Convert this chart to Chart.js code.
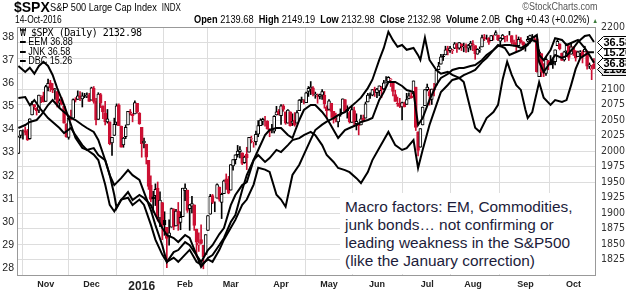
<!DOCTYPE html>
<html>
<head>
<meta charset="utf-8">
<script src="https://cdn.jsdelivr.net/npm/chart.js@4.4.0/dist/chart.umd.min.js"></script>
<style>
  body { margin: 0; background: #fff; }
  #wrap { position: relative; width: 626px; height: 291px; overflow: hidden; font-family: "Liberation Sans", Arial, sans-serif; }
  #chart { position: absolute; left: 0; top: 0; }
  .t { position: absolute; white-space: nowrap; color: #000; line-height: 1; }
  .narrow { transform: scaleX(0.8); transform-origin: left top; }
  #sym { left: 14px; top: 0px; font-size: 14px; font-weight: bold; }
  #name { left: 50px; top: 2px; font-size: 11.5px; }
  #name small { font-size: 10px; margin-left: 3px; }
  #date { left: 15px; top: 14px; font-size: 10.5px; }
  #ohlc { right: 28px; top: 14px; font-size: 11px; transform: scaleX(0.84); transform-origin: right top; }
  #ohlc b { margin-left: 3px; }
  #ohlc .up { font-size: 7px; color: #3a7a3a; }
  #copy { right: 28px; top: 2px; font-size: 10px; color: #555; transform: scaleX(0.9); transform-origin: right top; }
  .leg { left: 20px; font-size: 11px; }
  .leg.narrow { transform: scaleX(0.82); }
  .leg i { display: inline-block; width: 7px; height: 2px; background: #000; vertical-align: middle; margin-right: 3px; }
  #leg0 { top: 28px; font-family: "DejaVu Sans Mono", monospace; font-size: 10px; letter-spacing: -0.5px; }
  #note-bg { position: absolute; left: 340px; top: 193px; width: 255px; height: 81px; background: #fff; }
  #note { left: 345px; top: 198px; font-size: 15.4px; line-height: 18px; color: #1c1c3a; }
</style>
</head>
<body>
<div id="wrap">
  <canvas id="chart" width="626" height="291"></canvas>
  <div class="t" id="sym">$SPX</div>
  <div class="t narrow" id="name">S&amp;P 500 Large Cap Index <small>INDX</small></div>
  <div class="t narrow" id="date">14-Oct-2016</div>
  <div class="t" id="ohlc"><b>Open</b> 2139.68 <b>High</b> 2149.19 <b>Low</b> 2132.98 <b>Close</b> 2132.98 <b>Volume</b> 2.0B <b>Chg</b> +0.43 (+0.02%) <span class="up">&#9650;</span></div>
  <div class="t" id="copy">&copy;StockCharts.com</div>
  <div class="t leg" id="leg0">&#x20A9; $SPX (Daily) 2132.98</div>
  <div class="t leg narrow" style="top:36px"><i></i>EEM 36.88</div>
  <div class="t leg narrow" style="top:46px"><i></i>JNK 36.58</div>
  <div class="t leg narrow" style="top:55px"><i></i>DBC 15.26</div>
  <div id="note-bg"></div>
  <div class="t" id="note">Macro factors: EM, Commodities,<br>junk bonds… not confirming or<br>leading weakness in the S&amp;P500<br>(like the January correction)</div>
</div>
<script>
// trading day index 0 = 15-Oct-2015 ... 252 = 14-Oct-2016
const monthDays = [12, 32, 54, 73, 93, 115, 136, 157, 179, 199, 222, 243];
const monthNames = ['Nov', 'Dec', '2016', 'Feb', 'Mar', 'Apr', 'May', 'Jun', 'Jul', 'Aug', 'Sep', 'Oct'];
const spxTicks = [1825, 1850, 1875, 1900, 1925, 1950, 1975, 2000, 2025, 2050, 2075, 2100, 2125, 2150, 2175, 2200];
const eemTicks = [28, 29, 30, 31, 32, 33, 34, 35, 36, 37, 38];

// $SPX daily candles, one row per month
const spxOpen = [
  1996, 2025, 2033, 2033, 2031, 2020, 2058, 2075, 2069, 2066, 2088, 2089,
  2080, 2103, 2110, 2101, 2098, 2096, 2077, 2083, 2072, 2044, 2022, 2053, 2053, 2083, 2083, 2089, 2084, 2089, 2088, 2090,
  2082, 2101, 2080, 2051, 2091, 2073, 2061, 2047, 2047, 2013, 2025, 2046, 2074, 2040, 2010, 2023, 2042, 2063, 2060, 2060, 2077, 2061,
  2038, 2013, 2011, 1985, 1945, 1926, 1928, 1940, 1892, 1917, 1888, 1877, 1861, 1877, 1906, 1879, 1903, 1885, 1894,
  1936, 1937, 1907, 1911, 1913, 1874, 1848, 1857, 1848, 1833, 1872, 1898, 1928, 1918, 1924, 1942, 1917, 1931, 1955, 1949,
  1937, 1976, 1986, 1994, 1999, 1997, 1981, 1995, 1998, 2019, 2015, 2015, 2027, 2041, 2048, 2049, 2048, 2032, 2037, 2032, 2058, 2064,
  2057, 2073, 2063, 2045, 2063, 2045, 2050, 2045, 2065, 2083, 2081, 2078, 2096, 2100, 2102, 2091, 2089, 2088, 2090, 2090, 2071,
  2067, 2077, 2064, 2053, 2047, 2058, 2062, 2083, 2067, 2062, 2046, 2065, 2044, 2044, 2042, 2053, 2053, 2079, 2091, 2090, 2100,
  2094, 2097, 2103, 2100, 2111, 2112, 2115, 2109, 2091, 2077, 2077, 2071, 2077, 2075, 2085, 2089, 2092, 2103, 2031, 2006, 2042, 2073,
  2099, 2096, 2083, 2100, 2106, 2131, 2140, 2153, 2155, 2165, 2162, 2162, 2166, 2172, 2166, 2173, 2168, 2170, 2166, 2169,
  2173, 2170, 2156, 2163, 2168, 2183, 2182, 2182, 2178, 2184, 2187, 2187, 2177, 2181, 2185, 2182, 2187, 2186, 2175, 2175, 2170, 2179, 2176,
  2171, 2177, 2181, 2186, 2182, 2181, 2120, 2157, 2127, 2125, 2146, 2143, 2145, 2144, 2170, 2173, 2158, 2147, 2161, 2169, 2156,
  2168, 2161, 2152, 2158, 2159, 2160, 2161, 2137, 2131, 2139.68
];
const spxHigh = [
  2024, 2033, 2034, 2039, 2035, 2052, 2080, 2075, 2070, 2090, 2089, 2095,
  2106, 2116, 2114, 2109, 2101, 2096, 2084, 2086, 2072, 2044, 2053, 2066, 2084, 2086, 2097, 2096, 2094, 2093, 2094, 2093,
  2103, 2104, 2085, 2094, 2093, 2073, 2080, 2067, 2047, 2022, 2053, 2076, 2076, 2040, 2022, 2042, 2064, 2067, 2060, 2081, 2077, 2062,
  2038, 2021, 2011, 1985, 1960, 1935, 1947, 1950, 1934, 1917, 1902, 1877, 1889, 1908, 1907, 1906, 1917, 1902, 1940,
  1947, 1937, 1914, 1927, 1913, 1874, 1868, 1881, 1848, 1865, 1896, 1930, 1930, 1918, 1947, 1942, 1932, 1953, 1963, 1959,
  1978, 1986, 1994, 2009, 2007, 1997, 1992, 2006, 2022, 2024, 2016, 2032, 2049, 2052, 2053, 2056, 2049, 2036, 2043, 2057, 2072, 2067,
  2075, 2075, 2063, 2067, 2063, 2060, 2062, 2065, 2083, 2087, 2083, 2095, 2104, 2112, 2104, 2095, 2092, 2092, 2099, 2096, 2073,
  2083, 2077, 2064, 2061, 2058, 2068, 2084, 2083, 2073, 2064, 2072, 2071, 2060, 2044, 2058, 2058, 2079, 2093, 2094, 2099, 2103,
  2101, 2105, 2104, 2114, 2120, 2120, 2117, 2109, 2098, 2087, 2085, 2079, 2079, 2093, 2094, 2094, 2113, 2103, 2031, 2036, 2071, 2099,
  2108, 2100, 2100, 2109, 2131, 2143, 2156, 2156, 2169, 2169, 2169, 2164, 2175, 2174, 2175, 2173, 2174, 2173, 2172, 2177,
  2178, 2170, 2165, 2168, 2187, 2188, 2187, 2183, 2186, 2187, 2194, 2187, 2183, 2188, 2185, 2186, 2193, 2186, 2179, 2187, 2184, 2183, 2176,
  2173, 2185, 2187, 2188, 2185, 2181, 2163, 2157, 2141, 2151, 2146, 2154, 2150, 2163, 2180, 2173, 2158, 2161, 2173, 2173, 2175,
  2168, 2162, 2161, 2162, 2162, 2169, 2161, 2142, 2138, 2149.19
];
const spxLow = [
  1996, 2021, 2019, 2026, 2017, 2019, 2058, 2067, 2058, 2062, 2078, 2079,
  2080, 2097, 2096, 2094, 2083, 2071, 2070, 2074, 2045, 2022, 2019, 2050, 2053, 2079, 2083, 2081, 2071, 2086, 2086, 2080,
  2082, 2077, 2042, 2051, 2070, 2052, 2042, 2045, 2010, 1993, 2025, 2042, 2041, 2006, 2006, 2020, 2042, 2058, 2047, 2060, 2061, 2043,
  1990, 2005, 1979, 1938, 1918, 1901, 1912, 1887, 1878, 1857, 1864, 1812, 1848, 1877, 1873, 1879, 1872, 1873, 1894,
  1920, 1901, 1872, 1900, 1872, 1829, 1838, 1850, 1810, 1833, 1872, 1898, 1915, 1902, 1924, 1919, 1891, 1931, 1938, 1931,
  1937, 1969, 1979, 1990, 1989, 1978, 1980, 1970, 1998, 2013, 2006, 2010, 2023, 2041, 2042, 2040, 2035, 2023, 2029, 2029, 2058, 2058,
  2043, 2064, 2043, 2045, 2040, 2041, 2040, 2045, 2065, 2078, 2076, 2078, 2088, 2091, 2089, 2085, 2077, 2084, 2083, 2069, 2052,
  2066, 2054, 2045, 2047, 2039, 2056, 2062, 2064, 2053, 2045, 2046, 2040, 2034, 2026, 2042, 2047, 2053, 2079, 2085, 2089, 2088,
  2086, 2089, 2086, 2099, 2110, 2112, 2104, 2089, 2080, 2072, 2070, 2050, 2071, 2075, 2084, 2085, 2092, 2033, 1992, 2006, 2042, 2073,
  2097, 2074, 2075, 2089, 2106, 2131, 2140, 2146, 2155, 2155, 2159, 2157, 2165, 2159, 2164, 2162, 2160, 2159, 2160, 2163,
  2162, 2148, 2156, 2159, 2168, 2178, 2180, 2172, 2178, 2179, 2187, 2178, 2168, 2180, 2176, 2177, 2187, 2172, 2169, 2160, 2170, 2174, 2164,
  2161, 2176, 2174, 2180, 2176, 2127, 2120, 2120, 2120, 2122, 2131, 2139, 2133, 2139, 2170, 2163, 2146, 2145, 2156, 2146, 2156,
  2154, 2145, 2152, 2150, 2142, 2160, 2132, 2133, 2115, 2132.98
];
const spxClose = [
  2023, 2033, 2033, 2030, 2018, 2052, 2075, 2071, 2065, 2090, 2089, 2079,
  2104, 2109, 2102, 2099, 2099, 2078, 2081, 2075, 2045, 2023, 2053, 2051, 2083, 2082, 2089, 2086, 2089, 2089, 2090, 2080,
  2102, 2080, 2050, 2092, 2077, 2063, 2047, 2052, 2012, 2022, 2043, 2073, 2041, 2006, 2021, 2038, 2064, 2061, 2057, 2078, 2063, 2044,
  2012, 2016, 1990, 1943, 1922, 1923, 1938, 1890, 1921, 1880, 1881, 1859, 1868, 1907, 1878, 1903, 1882, 1893, 1940,
  1940, 1904, 1913, 1915, 1880, 1853, 1852, 1851, 1829, 1865, 1896, 1927, 1917, 1918, 1946, 1922, 1930, 1952, 1948, 1932,
  1978, 1986, 1994, 2000, 2002, 1980, 1990, 1989, 2022, 2020, 2016, 2027, 2041, 2050, 2051, 2049, 2036, 2035, 2037, 2056, 2063, 2060,
  2073, 2067, 2045, 2066, 2041, 2048, 2042, 2062, 2082, 2082, 2080, 2094, 2101, 2103, 2092, 2092, 2088, 2091, 2096, 2076, 2065,
  2081, 2064, 2052, 2051, 2058, 2059, 2084, 2064, 2065, 2047, 2067, 2047, 2048, 2041, 2052, 2048, 2076, 2090, 2090, 2099, 2097,
  2100, 2105, 2099, 2110, 2112, 2119, 2116, 2096, 2080, 2076, 2072, 2078, 2071, 2083, 2089, 2086, 2113, 2038, 2001, 2036, 2071, 2099,
  2103, 2089, 2100, 2098, 2130, 2137, 2152, 2152, 2163, 2162, 2166, 2163, 2173, 2165, 2175, 2169, 2169, 2167, 2170, 2174,
  2171, 2157, 2164, 2164, 2183, 2181, 2182, 2175, 2186, 2184, 2191, 2179, 2182, 2187, 2184, 2182, 2187, 2175, 2173, 2169, 2180, 2176, 2171,
  2171, 2180, 2186, 2186, 2182, 2128, 2160, 2127, 2126, 2148, 2139, 2139, 2140, 2163, 2177, 2165, 2146, 2160, 2171, 2151, 2168,
  2161, 2150, 2160, 2160, 2153, 2164, 2137, 2139, 2133, 2132.98
];

// overlays: EEM on the left scale, JNK and DBC on their own hidden scales
const eemDays = [0, 3, 5, 7, 10, 13, 15, 18, 20, 23, 25, 28, 30, 33, 35, 38, 40, 42, 45, 48, 50, 53, 55, 58, 60, 63, 65, 68, 70, 73, 75, 78, 80, 83, 85, 88, 90, 93, 95, 98, 100, 103, 105, 108, 110, 113, 115, 118, 120, 123, 125, 128, 130, 133, 135, 138, 140, 143, 145, 148, 150, 153, 155, 158, 160, 162, 165, 168, 170, 173, 175, 177, 180, 183, 185, 188, 190, 193, 195, 198, 200, 203, 205, 208, 210, 213, 215, 218, 220, 223, 225, 227, 228, 230, 233, 235, 238, 240, 243, 245, 248, 250, 252];
const eemVals = [35.36, 35.40, 35.05, 35.27, 34.84, 34.49, 34.32, 34.06, 33.84, 34.06, 33.75, 33.32, 33.11, 33.19, 32.89, 32.67, 32.02, 31.59, 31.89, 32.24, 32.02, 31.81, 31.29, 30.51, 29.86, 28.99, 28.26, 28.69, 28.78, 29.12, 28.99, 28.56, 28.26, 28.78, 28.99, 29.47, 29.73, 30.72, 31.16, 31.59, 31.72, 32.67, 32.89, 32.59, 32.76, 33.11, 33.02, 33.32, 33.54, 33.62, 33.75, 33.89, 33.75, 33.32, 32.89, 32.59, 32.33, 32.24, 32.15, 31.89, 31.68, 32.15, 32.67, 33.19, 33.54, 33.89, 33.32, 33.11, 33.19, 33.54, 32.33, 33.11, 34.19, 35.05, 35.62, 35.92, 36.14, 36.22, 36.35, 36.48, 36.57, 36.91, 37.09, 37.43, 37.65, 37.52, 37.22, 37.35, 37.43, 37.65, 37.95, 38.08, 37.22, 37.00, 37.43, 37.95, 37.87, 37.65, 37.78, 37.87, 37.52, 37.22, 36.88];

const jnkDays = [0, 3, 5, 8, 10, 13, 15, 18, 20, 23, 25, 28, 30, 33, 35, 38, 40, 42, 43, 45, 48, 50, 53, 55, 58, 60, 63, 65, 68, 70, 73, 75, 78, 80, 83, 85, 88, 90, 93, 95, 98, 100, 103, 105, 108, 110, 113, 115, 118, 120, 123, 125, 128, 130, 133, 135, 138, 140, 143, 145, 148, 150, 153, 155, 158, 160, 162, 165, 168, 170, 173, 175, 177, 180, 183, 185, 188, 190, 193, 195, 198, 200, 203, 205, 208, 210, 213, 215, 218, 220, 223, 225, 227, 228, 230, 233, 235, 238, 240, 243, 245, 248, 250, 252];
const jnkVals = [34.86, 34.92, 34.98, 35.02, 35.12, 35.32, 35.42, 35.26, 35.18, 35.06, 35.02, 34.92, 34.86, 34.78, 34.62, 34.22, 33.92, 33.52, 33.26, 33.42, 33.58, 33.42, 33.52, 33.46, 33.32, 33.12, 32.86, 32.72, 32.66, 32.58, 32.72, 32.66, 32.32, 32.08, 32.26, 32.32, 32.52, 32.66, 32.98, 33.12, 33.62, 33.92, 34.22, 34.42, 34.72, 34.82, 34.86, 34.86, 34.72, 34.66, 35.02, 35.22, 35.32, 35.32, 35.18, 35.06, 34.82, 34.66, 34.82, 34.86, 34.92, 34.98, 35.02, 35.06, 35.42, 35.58, 35.78, 35.78, 35.70, 35.62, 35.58, 34.92, 35.06, 35.42, 35.72, 35.86, 35.94, 36.02, 36.06, 36.06, 36.10, 36.12, 36.22, 36.32, 36.42, 36.50, 36.52, 36.52, 36.50, 36.46, 36.54, 36.62, 36.58, 36.18, 35.98, 36.18, 36.32, 36.26, 36.30, 36.46, 36.58, 36.70, 36.72, 36.58];

const dbcDays = [0, 3, 5, 7, 9, 11, 13, 15, 17, 20, 23, 25, 28, 30, 33, 35, 38, 40, 42, 45, 48, 50, 53, 55, 58, 60, 63, 65, 68, 70, 73, 75, 78, 80, 83, 85, 88, 90, 93, 95, 98, 100, 103, 105, 108, 110, 113, 115, 117, 120, 123, 125, 128, 130, 133, 135, 138, 140, 143, 145, 148, 150, 153, 155, 158, 160, 162, 164, 166, 168, 170, 173, 175, 176, 178, 180, 183, 185, 188, 190, 193, 195, 198, 200, 202, 205, 208, 210, 212, 214, 216, 218, 220, 222, 223, 225, 228, 230, 233, 235, 238, 240, 242, 244, 246, 248, 250, 252];
const dbcVals = [15.03, 14.93, 15.00, 14.90, 15.03, 15.10, 15.03, 14.88, 14.66, 14.38, 14.05, 13.83, 13.66, 13.63, 13.55, 13.46, 13.05, 12.71, 12.60, 12.80, 12.83, 12.71, 12.80, 12.71, 12.38, 12.13, 11.88, 11.76, 11.83, 11.76, 11.88, 11.96, 11.76, 11.71, 11.80, 11.76, 11.96, 12.13, 12.33, 12.46, 12.71, 12.80, 13.05, 13.33, 13.30, 13.26, 12.88, 12.80, 12.68, 13.21, 13.38, 13.55, 13.80, 13.96, 14.05, 14.10, 14.16, 14.21, 14.26, 14.33, 14.43, 14.50, 14.66, 14.80, 15.13, 15.33, 15.60, 15.46, 15.35, 15.38, 15.30, 15.33, 15.21, 15.13, 15.50, 15.13, 14.96, 14.90, 14.93, 14.88, 14.83, 14.76, 14.30, 14.00, 13.93, 14.16, 14.26, 14.38, 14.80, 15.10, 14.88, 14.71, 14.63, 14.30, 14.16, 14.26, 14.76, 14.50, 14.38, 14.46, 14.43, 14.46, 14.71, 14.98, 15.16, 15.21, 15.26, 15.26];

const RED = '#cc1033';
const GRID = '#dddddd';

const candleColor = spxClose.map((c, i) => c < (i ? spxClose[i - 1] : spxOpen[i]) ? RED : '#000');
const days = spxClose.map((c, i) => i);

function overlay(label, xs, ys, axis) {
    return {
        type: 'line', label: label, yAxisID: axis,
        data: xs.map((x, i) => ({ x: x, y: ys[i] })),
        borderColor: '#000', borderWidth: 2, pointRadius: 0, tension: 0
    };
}

// plot frame and the value tags at the right edge
const tagPlugin = {
    id: 'tags',
    afterDraw(chart) {
        const ctx = chart.ctx;
        const a = chart.chartArea;
        ctx.save();
        ctx.strokeStyle = '#999';
        ctx.lineWidth = 1;
        ctx.strokeRect(Math.round(a.left) + 0.5, Math.round(a.top) + 0.5, Math.round(a.right - a.left) - 1, Math.round(a.bottom - a.top));
        const tags = [
            { axis: 'ySPX', v: spxClose[spxClose.length - 1], text: '2132.98', fill: '#e4e4e4' },
            { axis: 'yEEM', v: eemVals[eemVals.length - 1], text: '36.88', fill: '#fff' },
            { axis: 'yDBC', v: dbcVals[dbcVals.length - 1], text: '15.26', fill: '#fff' },
            { axis: 'yJNK', v: jnkVals[jnkVals.length - 1], text: '36.58', fill: '#fff' }
        ];
        ctx.font = 'bold 11px "Liberation Sans", Arial';
        ctx.textBaseline = 'middle';
        tags.forEach(t => {
            const y = Math.round(chart.scales[t.axis].getPixelForValue(t.v)) + 0.5;
            const x = a.right + 1.5;
            ctx.beginPath();
            ctx.moveTo(x, y);
            ctx.lineTo(x + 6, y - 6);
            ctx.lineTo(640, y - 6);
            ctx.lineTo(640, y + 6);
            ctx.lineTo(x + 6, y + 6);
            ctx.closePath();
            ctx.fillStyle = t.fill;
            ctx.fill();
            ctx.strokeStyle = '#000';
            ctx.stroke();
            ctx.fillStyle = '#000';
            ctx.fillText(t.text, x + 6, y + 0.5);
        });
        ctx.restore();
    }
};

const axisFont = { family: '"Liberation Sans Narrow", "DejaVu Sans Condensed", "Liberation Sans"', size: 10.5 };

new Chart(document.getElementById('chart'), {
    type: 'line',
    data: {
        datasets: [
            overlay('EEM', eemDays, eemVals, 'yEEM'),
            overlay('JNK', jnkDays, jnkVals, 'yJNK'),
            overlay('DBC', dbcDays, dbcVals, 'yDBC'),
            {
                type: 'bar', label: 'body', yAxisID: 'ySPX', grouped: false,
                data: days.map(i => ({ x: i, y: [spxOpen[i], spxClose[i]] })),
                barThickness: 3, borderWidth: 1, borderSkipped: false,
                borderColor: candleColor,
                backgroundColor: days.map(i => spxClose[i] > spxOpen[i] ? '#fff' : candleColor[i])
            },
            {
                type: 'bar', label: 'wick', yAxisID: 'ySPX', grouped: false,
                data: days.map(i => ({ x: i, y: [spxLow[i], spxHigh[i]] })),
                barThickness: 1, borderWidth: 0,
                backgroundColor: candleColor
            }
        ]
    },
    options: {
        responsive: false,
        devicePixelRatio: 1,
        animation: false,
        layout: { padding: { top: 27, left: 0, right: 0, bottom: 0 } },
        plugins: { legend: { display: false }, tooltip: { enabled: false } },
        scales: {
            x: {
                type: 'linear', min: -0.6, max: 252.9, offset: false,
                grid: { color: GRID, drawTicks: false },
                border: { display: false },
                afterBuildTicks: s => { s.ticks = monthDays.map(v => ({ value: v })); },
                afterFit: s => { s.height = 16; },
                ticks: {
                    autoSkip: false, maxRotation: 0, padding: 4, color: '#222',
                    font: c => c.index === 2 ? { family: '"Liberation Sans Narrow", "Liberation Sans"', size: 12, weight: 'bold' } : { family: '"Liberation Sans"', size: 9, weight: 'bold' },
                    callback: (v, i) => monthNames[i]
                }
            },
            ySPX: {
                position: 'right', min: 1800, max: 2200,
                grid: { color: GRID, drawTicks: false },
                border: { display: false },
                afterBuildTicks: s => { s.ticks = spxTicks.map(v => ({ value: v })); },
                afterFit: s => { s.width = 30; },
                ticks: { padding: 5, color: '#333', font: axisFont, callback: v => String(v) }
            },
            yEEM: {
                position: 'left', min: 27.70, max: 38.43,
                grid: { display: false, drawTicks: false },
                border: { display: false },
                afterBuildTicks: s => { s.ticks = eemTicks.map(v => ({ value: v })); },
                afterFit: s => { s.width = 17; },
                ticks: { padding: 3, color: '#222', font: { family: '"Liberation Sans"', size: 10.5 }, callback: v => String(v) }
            },
            yJNK: { display: false, min: 31.92, max: 36.88 },
            yDBC: { display: false, min: 11.54, max: 15.68 }
        }
    },
    plugins: [tagPlugin]
});
</script>
</body>
</html>
